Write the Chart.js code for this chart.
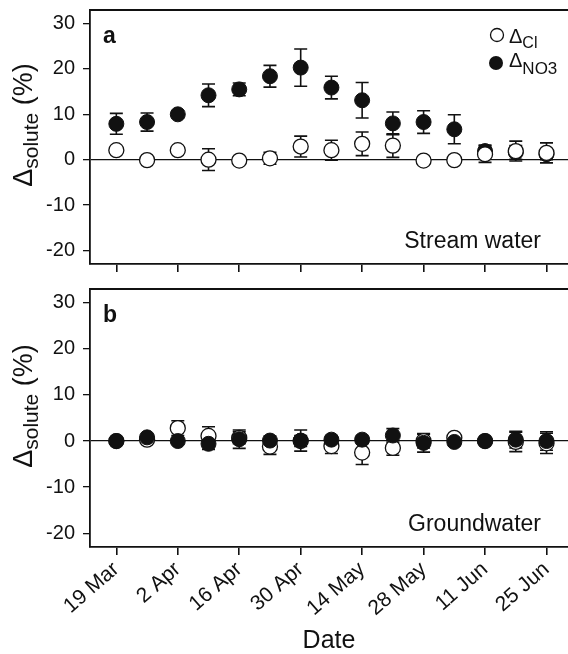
<!DOCTYPE html>
<html>
<head>
<meta charset="utf-8">
<script src="https://cdn.jsdelivr.net/npm/chart.js@4.4.0/dist/chart.umd.min.js"></script>
<style>
  body { margin: 0; background: #fff; }
  canvas { display: block; }
</style>
</head>
<body>
<canvas id="stream" width="568" height="280"></canvas>
<canvas id="ground" width="568" height="374"></canvas>
<script>
// sampling days, counted from 19 Mar (weekly)
const days = [0, 7, 14, 21, 28, 35, 42, 49, 56, 63, 70, 77, 84, 91, 98];
const tickDays = [0, 14, 28, 42, 56, 70, 84, 98];
const tickLabels = ["19 Mar", "2 Apr", "16 Apr", "30 Apr", "14 May", "28 May", "11 Jun", "25 Jun"];
const yTicks = [-20, -10, 0, 10, 20, 30];

// panel a: stream water
const streamCl = [2.1, -0.1, 2.1, 0, -0.2, 0.3, 2.9, 2.1, 3.5, 3.1, -0.2, -0.1, 1.2, 1.9, 1.5];
const streamClErr = [0.6, 0.5, 0.6, 2.4, 0.5, 1.3, 2.3, 2.2, 2.6, 2.6, 0.4, 0.4, 1.8, 2.2, 2.2];
const streamNO3 = [7.9, 8.3, 10.0, 14.2, 15.5, 18.4, 20.3, 15.9, 13.1, 8.0, 8.3, 6.7, 1.9, 1.6, 1.2];
const streamNO3Err = [2.3, 2.0, 0.8, 2.5, 1.4, 2.4, 4.1, 2.5, 3.9, 2.5, 2.5, 3.2, 1.3, 1.5, 1.2];

// panel b: groundwater
const groundCl = [0, 0.3, 2.8, 1.1, 0.7, -1.2, 0, -1.1, -2.5, -1.5, 0, 0.7, 0, -0.2, -0.5];
const groundClErr = [0.4, 0.5, 1.6, 2.0, 1.3, 1.7, 1.2, 1.6, 2.6, 1.6, 1.5, 0.5, 0.5, 2.1, 2.2];
const groundNO3 = [0, 0.8, 0, -0.6, 0.4, 0.1, 0.1, 0.3, 0.3, 1.2, -0.4, -0.2, 0, 0.3, 0];
const groundNO3Err = [0.5, 0.6, 0.4, 1.2, 2.0, 1.0, 2.3, 0.8, 0.8, 1.5, 2.0, 0.8, 0.6, 1.8, 2.0];

const FONT = "'Liberation Sans', Arial, sans-serif";
const INK = "#111";

function pts(ys) {
	return days.map((d, i) => ({ x: d, y: ys[i] }));
}

// draws text pieces one after another: [text, size, baselineShift]
function richText(ctx, parts, x, y, align) {
	let total = 0;
	parts.forEach(p => {
		ctx.font = p[1] + "px " + FONT;
		total += ctx.measureText(p[0]).width;
	});
	let cx = align === "center" ? x - total / 2 : x;
	parts.forEach(p => {
		ctx.font = p[1] + "px " + FONT;
		ctx.fillText(p[0], cx, y + p[2]);
		cx += ctx.measureText(p[0]).width;
	});
}

// scales should not push the plot area around
function noPad(s) {
	s.paddingTop = 0;
	s.paddingBottom = 0;
	s.paddingLeft = 0;
	s.paddingRight = 0;
}

const errorBars = {
	id: "errorBars",
	beforeDatasetsDraw(chart) {
		const ctx = chart.ctx;
		const xs = chart.scales.x, ys = chart.scales.y;
		ctx.save();
		ctx.strokeStyle = INK;
		ctx.lineWidth = 1.6;
		chart.data.datasets.forEach(ds => {
			ds.data.forEach((p, i) => {
				const e = ds.errors[i];
				const px = xs.getPixelForValue(p.x);
				const top = ys.getPixelForValue(p.y + e);
				const bot = ys.getPixelForValue(p.y - e);
				ctx.beginPath();
				ctx.moveTo(px, top); ctx.lineTo(px, bot);
				ctx.moveTo(px - 6.5, top); ctx.lineTo(px + 6.5, top);
				ctx.moveTo(px - 6.5, bot); ctx.lineTo(px + 6.5, bot);
				ctx.stroke();
			});
		});
		ctx.restore();
	}
};

const decorations = {
	id: "decorations",
	afterDraw(chart, args, opts) {
		const ctx = chart.ctx;
		const a = chart.chartArea;
		ctx.save();
		ctx.fillStyle = INK;
		ctx.strokeStyle = INK;
		// top frame line
		ctx.lineWidth = 1.8;
		ctx.beginPath();
		ctx.moveTo(a.left, a.top);
		ctx.lineTo(a.right, a.top);
		ctx.stroke();

		// panel letter
		ctx.textBaseline = "alphabetic";
		ctx.textAlign = "left";
		ctx.font = "bold 23px " + FONT;
		ctx.fillText(opts.letter, a.left + 13, a.top + 33);

		// caption bottom right
		ctx.textAlign = "right";
		ctx.font = "23px " + FONT;
		ctx.fillText(opts.caption, a.right - 27, a.bottom - 16);
		ctx.textAlign = "left";

		// y title, rotated
		ctx.save();
		ctx.translate(32, (a.top + a.bottom) / 2 - 12);
		ctx.rotate(-Math.PI / 2);
		richText(ctx, [["\u0394", 27, 0], ["solute", 21, 6], [" (%)", 27, 0]], 0, 0, "center");
		ctx.restore();

		if (opts.legend) {
			ctx.lineWidth = 1.3;
			ctx.beginPath();
			ctx.arc(a.right - 71, a.top + 25, 6.5, 0, Math.PI * 2);
			ctx.fillStyle = "#fff";
			ctx.fill();
			ctx.stroke();
			ctx.fillStyle = INK;
			ctx.beginPath();
			ctx.arc(a.right - 72, a.top + 53, 7, 0, Math.PI * 2);
			ctx.fill();
			richText(ctx, [["\u0394", 20, 0], ["Cl", 16, 5]], a.right - 59, a.top + 33);
			richText(ctx, [["\u0394", 20, 0], ["NO3", 17, 7]], a.right - 59, a.top + 57);
		}
		ctx.restore();
	}
};

function makePanel(id, cl, clErr, no3, no3Err, opts) {
	const ctx = document.getElementById(id).getContext("2d");
	return new Chart(ctx, {
		type: "scatter",
		data: {
			datasets: [
				{
					label: "Cl",
					data: pts(cl),
					errors: clErr,
					order: opts.clOnTop ? 0 : 1,
					pointStyle: "circle",
					pointRadius: 7.5,
					pointBackgroundColor: "#fff",
					pointBorderColor: INK,
					pointBorderWidth: 1.3
				},
				{
					label: "NO3",
					data: pts(no3),
					errors: no3Err,
					order: opts.clOnTop ? 1 : 0,
					pointStyle: "circle",
					pointRadius: 7.5,
					pointBackgroundColor: INK,
					pointBorderColor: INK,
					pointBorderWidth: 1
				}
			]
		},
		options: {
			responsive: false,
			animation: false,
			events: [],
			layout: { autoPadding: false, padding: { top: opts.top, right: 0, left: 0, bottom: 0 } },
			plugins: {
				legend: { display: false },
				tooltip: { enabled: false },
				decorations: opts
			},
			scales: {
				x: {
					type: "linear",
					min: -6,
					max: 102.9,
					afterBuildTicks: s => { s.ticks = tickDays.map(v => ({ value: v })); },
					afterFit: s => { s.height = opts.xHeight; noPad(s); },
					grid: { drawOnChartArea: false, tickLength: 8, tickColor: INK, lineWidth: 1.6 },
					border: { display: true, color: INK, width: 1.8 },
					ticks: {
						display: opts.dates,
						maxRotation: 41,
						minRotation: 41,
						padding: 2,
						color: INK,
						font: { family: FONT, size: 21 },
						callback: v => tickLabels[tickDays.indexOf(v)]
					},
					title: {
						display: opts.dates,
						text: "Date",
						color: INK,
						font: { family: FONT, size: 25, lineHeight: 1 },
						padding: { top: 0, bottom: 0 }
					}
				},
				y: {
					min: -23,
					max: 33,
					afterBuildTicks: s => { s.ticks = yTicks.map(v => ({ value: v })); },
					afterFit: s => { s.width = 90; noPad(s); },
					grid: {
						color: c => (c.tick && c.tick.value === 0 ? INK : "transparent"),
						lineWidth: 1.3,
						tickLength: 7,
						tickColor: INK
					},
					border: { display: true, color: INK, width: 1.8 },
					ticks: {
						padding: 8,
						color: INK,
						font: { family: FONT, size: 20 }
					}
				}
			}
		},
		plugins: [errorBars, decorations]
	});
}

makePanel("stream", streamCl, streamClErr, streamNO3, streamNO3Err, {
	letter: "a", caption: "Stream water", legend: true, clOnTop: true,
	dates: false, top: 10, xHeight: 16
});
makePanel("ground", groundCl, groundClErr, groundNO3, groundNO3Err, {
	letter: "b", caption: "Groundwater", legend: false, clOnTop: false,
	dates: true, top: 9, xHeight: 107
});
</script>
</body>
</html>
